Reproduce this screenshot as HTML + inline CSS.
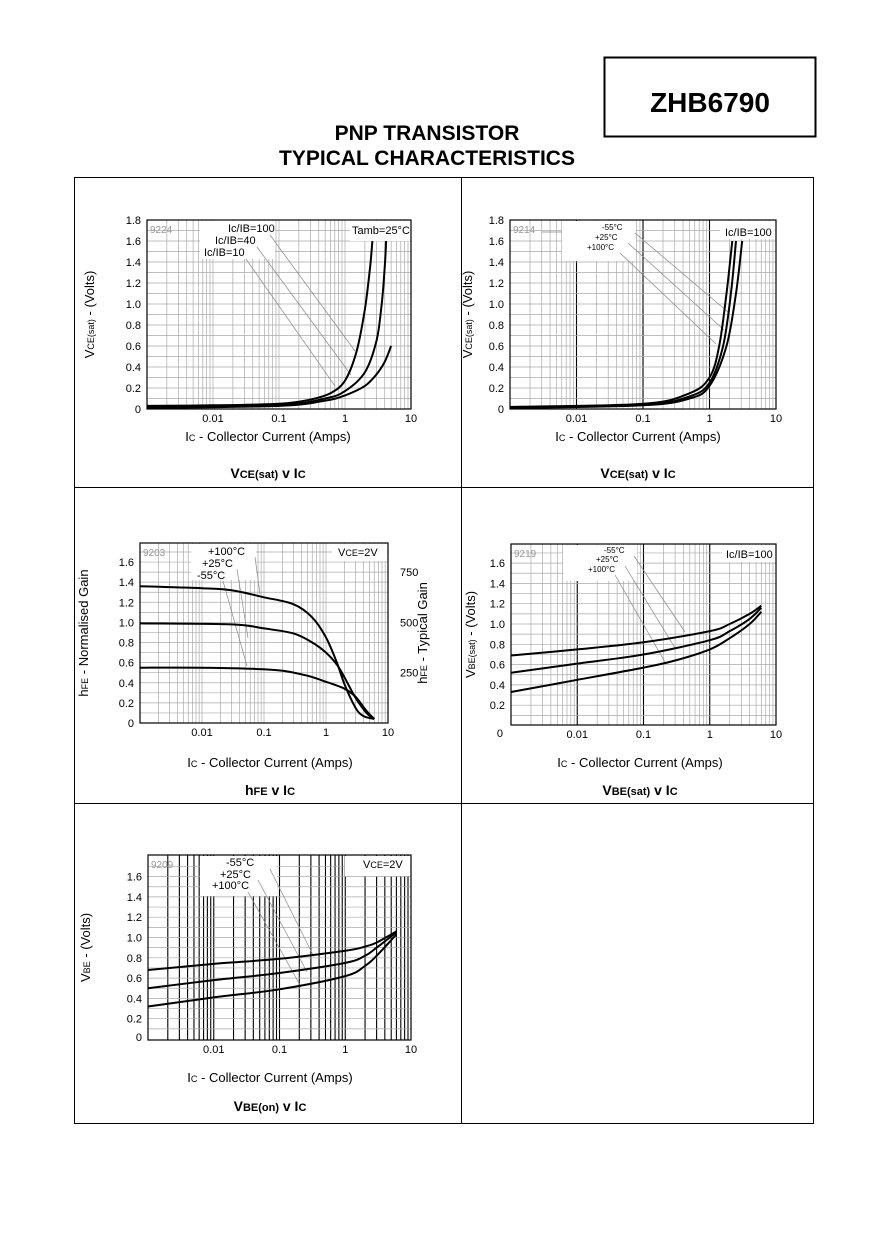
<!DOCTYPE html>
<html><head><meta charset="utf-8"><title>ZHB6790 Typical Characteristics</title>
<style>
html,body{margin:0;padding:0;background:#fff;}
svg{display:block;font-family:"Liberation Sans",Arial,sans-serif;}
</style></head>
<body>
<svg id="page" width="875" height="1240" viewBox="0 0 875 1240" xmlns="http://www.w3.org/2000/svg">
<rect x="604.5" y="57.5" width="211" height="79" fill="none" stroke="#000" stroke-width="2"/>
<text x="710" y="112" text-anchor="middle" font-size="28" font-weight="bold">ZHB6790</text>
<text x="427" y="140" text-anchor="middle" font-size="21" font-weight="bold">PNP TRANSISTOR</text>
<text x="427" y="165" text-anchor="middle" font-size="21" font-weight="bold">TYPICAL CHARACTERISTICS</text>
<rect x="74.5" y="177.5" width="739" height="946" fill="none" stroke="#000" stroke-width="1"/>
<line x1="461.5" y1="177" x2="461.5" y2="1124" stroke="#000"/>
<line x1="74" y1="487.5" x2="814" y2="487.5" stroke="#000"/>
<line x1="74" y1="803.5" x2="814" y2="803.5" stroke="#000"/>
<g id="charts"></g>
</svg>
<script>
// ---- data: chart 1 VCE(sat) v IC ----
const c1Names = ["ic-ib-100","ic-ib-40","ic-ib-10"];
const c1X100 = [0.001,0.01,0.1,0.3,0.6,1,1.5,2,2.4,2.6];
const c1Y100 = [0.03,0.035,0.05,0.09,0.15,0.27,0.55,0.95,1.35,1.6];
const c1X40 = [0.001,0.1,0.5,1,2,3,3.6,4.0,4.2];
const c1Y40 = [0.02,0.04,0.1,0.17,0.35,0.65,1.0,1.35,1.6];
const c1X10 = [0.001,0.1,0.5,1,2,3,4,5];
const c1Y10 = [0.01,0.03,0.08,0.13,0.22,0.33,0.45,0.6];
// ---- chart 2 VCE(sat) v IC temps ----
const c2Names = ["minus-55c","plus-25c","plus-100c"];
const c2XA = [0.001,0.1,0.5,1,1.4,1.8,2.2];
const c2YA = [0.02,0.05,0.15,0.3,0.6,1.1,1.6];
const c2XB = [0.001,0.1,0.5,1,1.6,2.1,2.5];
const c2YB = [0.015,0.04,0.12,0.25,0.6,1.1,1.6];
const c2XC = [0.001,0.1,0.5,1,1.8,2.5,3.1];
const c2YC = [0.01,0.035,0.1,0.22,0.6,1.1,1.6];
// ---- chart 3 hFE v IC ----
const c3Names = ["plus-100c","plus-25c","minus-55c"];
const c3XA = [0.001,0.01,0.03,0.1,0.3,0.6,1,1.5,2,3,4,6];
const c3YA = [1.36,1.34,1.32,1.25,1.18,1.05,0.85,0.6,0.38,0.15,0.07,0.04];
const c3XB = [0.001,0.03,0.1,0.3,0.6,1,1.5,2,3,4.5,6];
const c3YB = [0.99,0.98,0.94,0.89,0.8,0.7,0.58,0.45,0.25,0.1,0.04];
const c3XC = [0.001,0.01,0.06,0.2,0.5,1,2,3,4.5,6];
const c3YC = [0.55,0.55,0.54,0.52,0.47,0.41,0.34,0.26,0.12,0.04];
// ---- chart 4 VBE(sat) v IC ----
const c4Names = ["minus-55c","plus-25c","plus-100c"];
const c4XA = [0.001,0.01,0.1,1,2,4,6];
const c4YA = [0.69,0.75,0.82,0.93,1.0,1.1,1.18];
const c4XB = [0.001,0.01,0.1,1,2,4,6];
const c4YB = [0.52,0.61,0.7,0.84,0.93,1.05,1.16];
const c4XC = [0.001,0.01,0.1,0.3,1,2,4,6];
const c4YC = [0.33,0.45,0.57,0.64,0.75,0.86,1.0,1.12];
// ---- chart 5 VBE(on) v IC ----
const c5Names = ["minus-55c","plus-25c","plus-100c"];
const c5XA = [0.001,0.01,0.1,1,2,3,6];
const c5YA = [0.68,0.74,0.79,0.87,0.91,0.95,1.06];
const c5XB = [0.001,0.01,0.1,1,2,3,6];
const c5YB = [0.5,0.58,0.65,0.75,0.82,0.9,1.05];
const c5XC = [0.001,0.01,0.1,1,2,3,6];
const c5YC = [0.32,0.41,0.49,0.62,0.72,0.82,1.03];
// tick labels
const xTickVals = [0.01,0.1,1,10];
const xTickLabels = ["0.01","0.1","1","10"];
const yTickVals18 = [0,0.2,0.4,0.6,0.8,1.0,1.2,1.4,1.6,1.8];
const yTickLabels18 = ["0","0.2","0.4","0.6","0.8","1.0","1.2","1.4","1.6","1.8"];
const yTickVals16 = [0,0.2,0.4,0.6,0.8,1.0,1.2,1.4,1.6];
const yTickLabels16 = ["0","0.2","0.4","0.6","0.8","1.0","1.2","1.4","1.6"];
const y2TickVals = [0.5,1.0,1.5];
const y2TickLabels = ["250","500","750"];

const NS = "http://www.w3.org/2000/svg";
const root = document.getElementById('charts');
function mk(tag, attrs, parent){
  const e = document.createElementNS(NS, tag);
  for (const k in attrs) e.setAttribute(k, attrs[k]);
  (parent||root).appendChild(e);
  return e;
}
function smooth(pts){
  let d = "M"+pts[0][0].toFixed(1)+","+pts[0][1].toFixed(1);
  for (let i=0;i<pts.length-1;i++){
    const p0=pts[i-1]||pts[i], p1=pts[i], p2=pts[i+1], p3=pts[i+2]||p2;
    const c1x=p1[0]+(p2[0]-p0[0])/6, c1y=p1[1]+(p2[1]-p0[1])/6;
    const c2x=p2[0]-(p3[0]-p1[0])/6, c2y=p2[1]-(p3[1]-p1[1])/6;
    d+=" C"+c1x.toFixed(1)+","+c1y.toFixed(1)+" "+c2x.toFixed(1)+","+c2y.toFixed(1)+" "+p2[0].toFixed(1)+","+p2[1].toFixed(1);
  }
  return d;
}

function chart(cfg){
  const g = mk('g', {});
  
  
  const L=cfg.l, R=cfg.r, T=cfg.t, B=cfg.b;
  const dec=(R-L)/4;
  const sx = v => L + (Math.log10(v)+3)*dec;
  const sy = v => cfg.y0 - v*cfg.ppu;
  for (let d=0; d<4; d++){
    for (let m=1; m<=9; m++){
      const v = Math.pow(10,d-3)*m;
      const x = sx(v);
      if (m===1 && d===0) continue;
      const major = (m===1);
      const blk = (cfg.blackMajor&&major)||cfg.allBlack;
      const ln = mk('line',{x1:x,y1:T,x2:x,y2:B,stroke: blk ? '#000':'#aaa','stroke-width': blk ? 1.1 : 0.7},g);
      
      
    }
  }
  for (let k=1; k*0.1 < cfg.ymax-0.01; k++){
    const y = sy(k*0.1);
    const ln = mk('line',{x1:L,y1:y,x2:R,y2:y,stroke:'#aaa','stroke-width':0.7},g);
    
    
  }
  cfg.boxes.forEach(b=>{
    const r = mk('rect',{x:b[0],y:b[1],width:b[2],height:b[3],fill:'#fff'},g);
    
    
  });
  const fr = mk('rect',{x:L,y:T,width:R-L,height:B-T,fill:'none',stroke:'#000','stroke-width':1.2},g);
  
  
  const fn = mk('text',{x:L+3,y:T+13,'font-size':10,fill:'#999'},g);
  fn.textContent = cfg.fig;
  
  
  cfg.labels.forEach(lb=>{
    const t = mk('text',{x:lb.x,y:lb.y,'font-size':lb.fs||11,'text-anchor':lb.a||'start'},g);
    t.textContent = lb.t;
    
    
  });
  cfg.leaders.forEach(p=>{
    const ln = mk('line',{x1:p[0],y1:p[1],x2:p[2],y2:p[3],stroke:'#888','stroke-width':0.7},g);
    
    
  });
  cfg.series.forEach((s,i)=>{
    const pts = s.x.map((v,j)=>[sx(v), sy(s.y[j])]);
    const p = mk('path',{d:smooth(pts),fill:'none',stroke:'#000','stroke-width':2},g);
    
    
  });
  xTickVals.forEach((v,i)=>{
    const t = mk('text',{x:sx(v),y:B+13,'font-size':11,'text-anchor':'middle'},g);
    t.textContent = xTickLabels[i];
    
    
  });
  cfg.yVals.forEach((v,i)=>{
    const y = (v===0 && cfg.zeroY) ? cfg.zeroY : sy(v)+4;
    const t = mk('text',{x:L-(v===0&&cfg.zeroX?cfg.zeroX:6),y:y,'font-size':11,'text-anchor':'end'},g);
    t.textContent = cfg.yLabels[i];
    
    
  });
  if (cfg.y2){
    y2TickVals.forEach((v,i)=>{
      const t = mk('text',{x:R+12,y:sy(v)+4,'font-size':11},g);
      t.textContent = y2TickLabels[i];
      
      
    });
    const t2 = mk('text',{transform:'translate('+(R+39)+','+((T+B)/2)+') rotate(-90)','font-size':13,'text-anchor':'middle'},g);
    t2.innerHTML = 'h<tspan font-size="9">FE</tspan> - Typical Gain';
    
    
  }
  const xt = mk('text',{x:cfg.xtx,y:cfg.xty,'font-size':13,'text-anchor':'middle'},g);
  xt.innerHTML = 'I<tspan font-size="9">C</tspan> - Collector Current (Amps)';
  
  
  const yt = mk('text',{transform:'translate('+cfg.ytx+','+((T+B)/2)+') rotate(-90)','font-size':13,'text-anchor':'middle'},g);
  yt.innerHTML = cfg.ytitle;
  
  
  const cp = mk('text',{x:cfg.xtx,y:cfg.capy,'font-size':14,'font-weight':'bold','text-anchor':'middle'},g);
  cp.innerHTML = cfg.caption;
  
  
}

const S9 = '<tspan font-size="9">';
const S11 = '<tspan font-size="11">';
chart({name:'vcesat-ic-chart',fig:'9224',l:147,r:411,t:220,b:409,y0:409,ppu:105,ymax:1.8,
  yVals:yTickVals18,yLabels:yTickLabels18,xtx:268,xty:441,capy:478,ytx:94,
  ytitle:'V'+S9+'CE(sat)</tspan> - (Volts)',caption:'V'+S11+'CE(sat)</tspan> v I'+S11+'C</tspan>',
  boxes:[[200,221,75,38],[350,221,60,20]],
  labels:[{x:228,y:232,t:'Ic/IB=100',fs:11},{x:215,y:244,t:'Ic/IB=40',fs:11},{x:204,y:256,t:'Ic/IB=10',fs:11},{x:352,y:234,t:'Tamb=25°C',fs:11}],
  leaders:[[270,235,355,351],[257,247,351,375],[246,259,335,386]],
  series:[{n:c1Names[0],x:c1X100,y:c1Y100},{n:c1Names[1],x:c1X40,y:c1Y40},{n:c1Names[2],x:c1X10,y:c1Y10}]});

chart({name:'vcesat-ic-temperature-chart',fig:'9214',l:510,r:776,t:220,b:409,y0:409,ppu:105,ymax:1.8,blackMajor:true,
  yVals:yTickVals18,yLabels:yTickLabels18,xtx:638,xty:441,capy:478,ytx:472,
  ytitle:'V'+S9+'CE(sat)</tspan> - (Volts)',caption:'V'+S11+'CE(sat)</tspan> v I'+S11+'C</tspan>',
  boxes:[[562,221,74,40],[720,221,55,18]],
  labels:[{x:602,y:230,t:'-55°C',fs:8},{x:595,y:240,t:'+25°C',fs:8},{x:587,y:250,t:'+100°C',fs:8},{x:725,y:236,t:'Ic/IB=100',fs:11}],
  leaders:[[635,233,728,312],[628,243,724,330],[620,253,716,344],[542,232,562,232]],
  series:[{n:c2Names[0],x:c2XA,y:c2YA},{n:c2Names[1],x:c2XB,y:c2YB},{n:c2Names[2],x:c2XC,y:c2YC}]});

chart({name:'hfe-ic-chart',fig:'9203',l:140,r:388,t:543,b:723,y0:723,ppu:100.6,ymax:1.79,y2:true,
  yVals:yTickVals16,yLabels:yTickLabels16,xtx:270,xty:767,capy:795,ytx:88,zeroY:727,
  ytitle:'h'+S9+'FE</tspan> - Normalised Gain',caption:'h'+S11+'FE</tspan> v I'+S11+'C</tspan>',
  boxes:[[191,544,65,36],[332,544,55,17]],
  labels:[{x:208,y:555,t:'+100°C',fs:11},{x:202,y:567,t:'+25°C',fs:11},{x:197,y:579,t:'-55°C',fs:11}],
  leaders:[[255,557,260,594],[237,569,248,638],[223,581,247,666]],
  series:[{n:c3Names[0],x:c3XA,y:c3YA},{n:c3Names[1],x:c3XB,y:c3YB},{n:c3Names[2],x:c3XC,y:c3YC}]});
(function(){const t=mk('text',{x:338,y:556,'font-size':11});t.innerHTML='V'+S9+'CE</tspan>=2V';})();

chart({name:'vbesat-ic-chart',fig:'9219',l:511,r:776,t:544,b:725,y0:725.5,ppu:101.5,ymax:1.79,blackMajor:true,
  yVals:yTickVals16,yLabels:yTickLabels16,xtx:640,xty:767,capy:795,ytx:475,zeroY:737,zeroX:8,
  ytitle:'V'+S9+'BE(sat)</tspan> - (Volts)',caption:'V'+S11+'BE(sat)</tspan> v I'+S11+'C</tspan>',
  boxes:[[563,545,74,36],[722,545,53,17]],
  labels:[{x:604,y:553,t:'-55°C',fs:8},{x:596,y:562,t:'+25°C',fs:8},{x:588,y:572,t:'+100°C',fs:8},{x:726,y:558,t:'Ic/IB=100',fs:11}],
  leaders:[[634,556,685,632],[625,566,675,648],[615,575,665,662]],
  series:[{n:c4Names[0],x:c4XA,y:c4YA},{n:c4Names[1],x:c4XB,y:c4YB},{n:c4Names[2],x:c4XC,y:c4YC}]});

chart({name:'vbeon-ic-chart',fig:'9209',l:148,r:411,t:855,b:1040,y0:1039,ppu:101.5,ymax:1.8,allBlack:true,
  yVals:yTickVals16,yLabels:yTickLabels16,xtx:270,xty:1082,capy:1111,ytx:90,zeroY:1041,
  ytitle:'V'+S9+'BE</tspan> - (Volts)',caption:'V'+S11+'BE(on)</tspan> v I'+S11+'C</tspan>',
  boxes:[[200,856,77,40],[345,856,65,20]],
  labels:[{x:226,y:866,t:'-55°C',fs:11},{x:220,y:878,t:'+25°C',fs:11},{x:212,y:889,t:'+100°C',fs:11}],
  leaders:[[270,869,313,955],[258,880,307,972],[248,892,300,985]],
  series:[{n:c5Names[0],x:c5XA,y:c5YA},{n:c5Names[1],x:c5XB,y:c5YB},{n:c5Names[2],x:c5XC,y:c5YC}]});
(function(){const t=mk('text',{x:363,y:868,'font-size':11});t.innerHTML='V'+S9+'CE</tspan>=2V';})();
</script>
</body></html>
